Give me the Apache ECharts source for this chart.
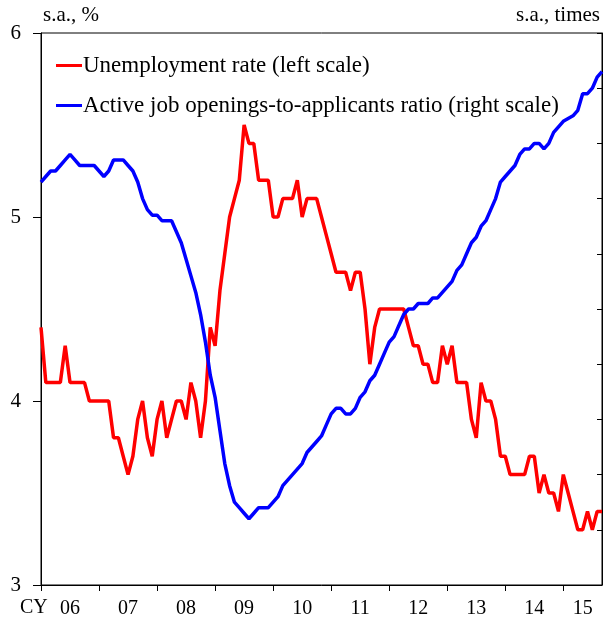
<!DOCTYPE html>
<html>
<head>
<meta charset="utf-8">
<script src="https://cdn.jsdelivr.net/npm/echarts@6/dist/echarts.min.js"></script>
<style>
  html, body { margin: 0; padding: 0; background: #fff; }
  #chart { width: 604px; height: 625px; }
</style>
</head>
<body>
<div id="chart"></div>
<script>
// monthly, Jan 2006 .. Sep 2015
const years = ['06', '07', '08', '09', '10', '11', '12', '13', '14', '15']
const months = []
years.forEach((y) => {
  for (let m = 1; m <= 12; m++) months.push('20' + y + '-' + (m < 10 ? '0' + m : m))
})
months.length = 117

// index of each year label (middle of the year, last one centred on the partial year)
const yearLabelIndex = [6, 18, 30, 42, 54, 66, 78, 90, 102, 112]

const unemployment = [
  4.4, 4.1, 4.1, 4.1, 4.1, 4.3, 4.1, 4.1, 4.1, 4.1, 4.0, 4.0,
  4.0, 4.0, 4.0, 3.8, 3.8, 3.7, 3.6, 3.7, 3.9, 4.0, 3.8, 3.7,
  3.9, 4.0, 3.8, 3.9, 4.0, 4.0, 3.9, 4.1, 4.0, 3.8, 4.0, 4.4,
  4.3, 4.6, 4.8, 5.0, 5.1, 5.2, 5.5, 5.4, 5.4, 5.2, 5.2, 5.2,
  5.0, 5.0, 5.1, 5.1, 5.1, 5.2, 5.0, 5.1, 5.1, 5.1, 5.0, 4.9,
  4.8, 4.7, 4.7, 4.7, 4.6, 4.7, 4.7, 4.5, 4.2, 4.4, 4.5, 4.5,
  4.5, 4.5, 4.5, 4.5, 4.4, 4.3, 4.3, 4.2, 4.2, 4.1, 4.1, 4.3,
  4.2, 4.3, 4.1, 4.1, 4.1, 3.9, 3.8, 4.1, 4.0, 4.0, 3.9, 3.7,
  3.7, 3.6, 3.6, 3.6, 3.6, 3.7, 3.7, 3.5, 3.6, 3.5, 3.5, 3.4,
  3.6, 3.5, 3.4, 3.3, 3.3, 3.4, 3.3, 3.4, 3.4
]

const jobRatio = [
  1.03, 1.04, 1.05, 1.05, 1.06, 1.07, 1.08, 1.07, 1.06, 1.06, 1.06, 1.06,
  1.05, 1.04, 1.05, 1.07, 1.07, 1.07, 1.06, 1.05, 1.03, 1.00, 0.98, 0.97,
  0.97, 0.96, 0.96, 0.96, 0.94, 0.92, 0.89, 0.86, 0.83, 0.79, 0.74, 0.68,
  0.64, 0.58, 0.52, 0.48, 0.45, 0.44, 0.43, 0.42, 0.43, 0.44, 0.44, 0.44,
  0.45, 0.46, 0.48, 0.49, 0.50, 0.51, 0.52, 0.54, 0.55, 0.56, 0.57, 0.59,
  0.61, 0.62, 0.62, 0.61, 0.61, 0.62, 0.64, 0.65, 0.67, 0.68, 0.70, 0.72,
  0.74, 0.75, 0.77, 0.79, 0.80, 0.80, 0.81, 0.81, 0.81, 0.82, 0.82, 0.83,
  0.84, 0.85, 0.87, 0.88, 0.90, 0.92, 0.93, 0.95, 0.96, 0.98, 1.00, 1.03,
  1.04, 1.05, 1.06, 1.08, 1.09, 1.09, 1.10, 1.10, 1.09, 1.10, 1.12, 1.13,
  1.14, 1.145, 1.15, 1.16, 1.19, 1.19, 1.20, 1.22, 1.23
]

const font = 'Liberation Serif'
const chart = echarts.init(document.getElementById('chart'))

chart.setOption({
  animation: false,
  textStyle: { fontFamily: font, color: '#000' },
  grid: {
    left: 41,
    right: 2,
    top: 33,
    bottom: 40,
    show: true,
    borderColor: '#000',
    borderWidth: 1
  },
  legend: {
    orient: 'vertical',
    left: 51,
    top: 49,
    itemWidth: 26,
    itemHeight: 3,
    itemGap: 17,
    icon: 'rect',
    textStyle: { fontFamily: font, fontSize: 23, color: '#000', padding: [0, 0, 0, -4] },
    data: ['Unemployment rate (left scale)', 'Active job openings-to-applicants ratio (right scale)']
  },
  graphic: [
    {
      type: 'text',
      left: 20,
      top: 598,
      style: { text: 'CY', font: '20px "Liberation Serif"', fill: '#000' }
    }
  ],
  xAxis: {
    type: 'category',
    data: months,
    boundaryGap: false,
    axisLine: { lineStyle: { color: '#000' } },
    axisTick: {
      length: 6,
      lineStyle: { color: '#000' },
      interval: (i) => i % 12 === 0
    },
    axisLabel: {
      interval: (i) => yearLabelIndex.indexOf(i) >= 0,
      formatter: (v, i) => years[yearLabelIndex.indexOf(i)],
      fontSize: 20,
      fontFamily: font,
      color: '#000',
      margin: 14
    },
    splitLine: { show: false }
  },
  yAxis: [
    {
      type: 'value',
      min: 3,
      max: 6,
      interval: 1,
      name: 's.a., %',
      nameLocation: 'end',
      nameGap: 7,
      nameTextStyle: { fontFamily: font, fontSize: 21, color: '#000', align: 'left', padding: [0, 0, 0, 2] },
      axisLine: { show: true, lineStyle: { color: '#000' } },
      axisTick: { show: true, length: 8, lineStyle: { color: '#000' } },
      axisLabel: { fontSize: 21, fontFamily: font, color: '#000', margin: 20 },
      splitLine: { show: false }
    },
    {
      type: 'value',
      min: 0.3,
      max: 1.3,
      interval: 0.1,
      position: 'right',
      name: 's.a., times',
      nameLocation: 'end',
      nameGap: 7,
      nameTextStyle: { fontFamily: font, fontSize: 21, color: '#000', align: 'right', padding: [0, 2, 0, 0] },
      axisLine: { show: true, lineStyle: { color: '#000' } },
      axisTick: { show: true, inside: true, length: 5, lineStyle: { color: '#000' } },
      axisLabel: { show: false },
      splitLine: { show: false }
    }
  ],
  series: [
    {
      name: 'Unemployment rate (left scale)',
      type: 'line',
      yAxisIndex: 0,
      data: unemployment,
      showSymbol: false,
      lineStyle: { color: '#ff0000', width: 3.5 },
      itemStyle: { color: '#ff0000' }
    },
    {
      name: 'Active job openings-to-applicants ratio (right scale)',
      type: 'line',
      yAxisIndex: 1,
      data: jobRatio,
      showSymbol: false,
      lineStyle: { color: '#0000ff', width: 3.5 },
      itemStyle: { color: '#0000ff' }
    }
  ]
})
</script>
</body>
</html>
